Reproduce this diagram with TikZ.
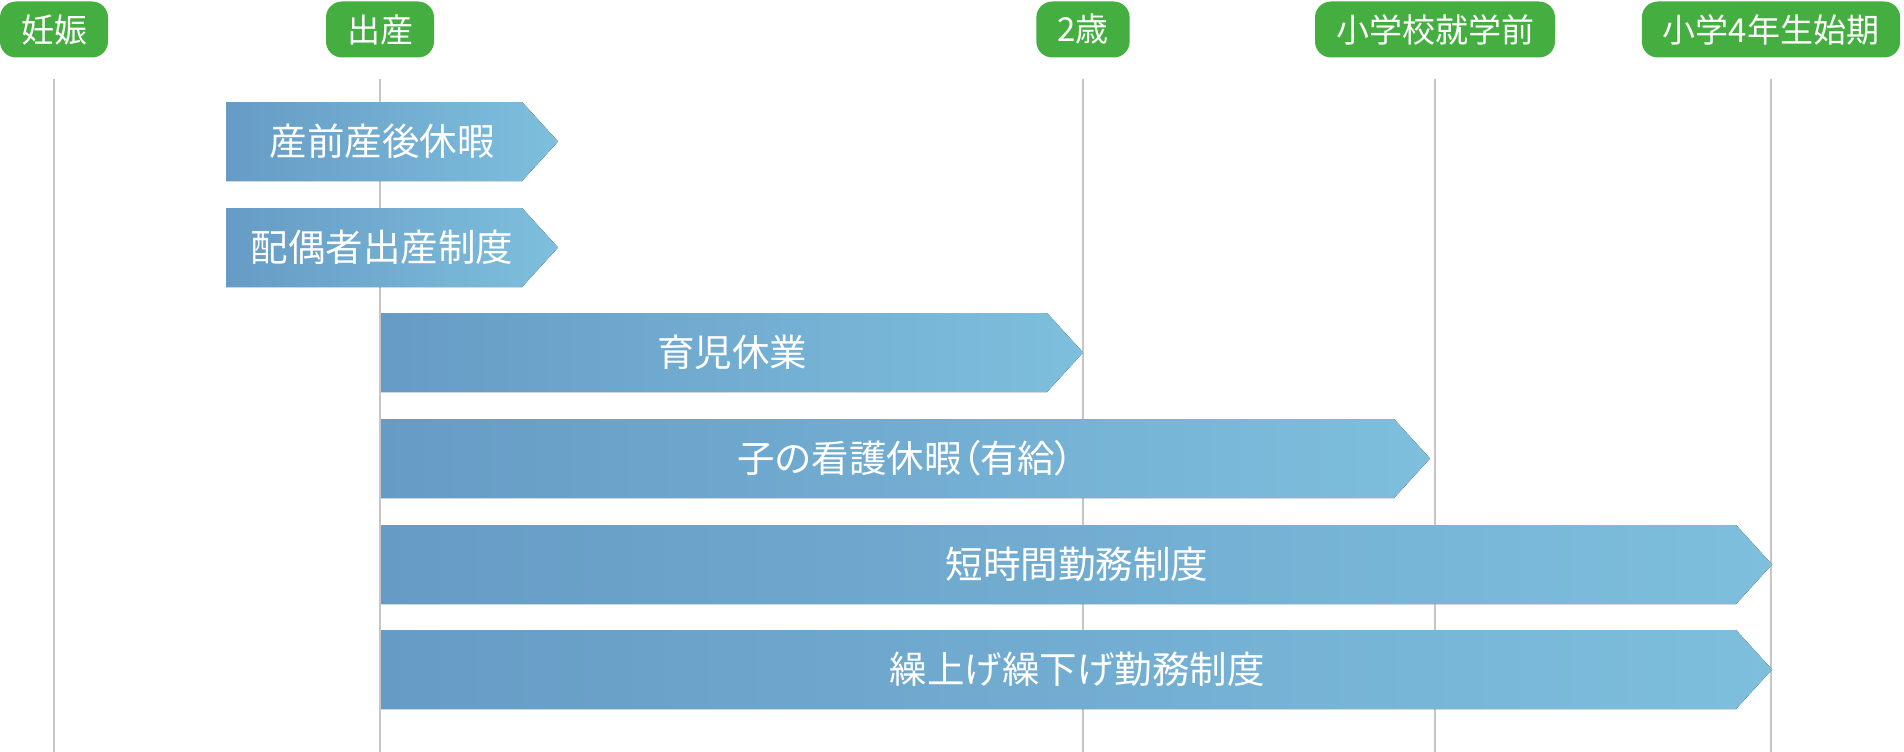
\documentclass[tikz,border=0pt]{standalone}
\usepackage{fontspec}
\newfontfamily\jpfont{Noto Sans CJK JP}
\newfontfamily\jpfontpalt[RawFeature=+palt]{Noto Sans CJK JP}
\definecolor{milegreen}{HTML}{44AF40}
\definecolor{barleft}{HTML}{669BC5}
\definecolor{barright}{HTML}{7EBFDD}
\definecolor{axisgray}{HTML}{C6C6C6}
\tikzset{
  milestone/.style={rounded corners=16pt, fill=milegreen, text=white,
    font=\jpfont\fontsize{33}{33}\selectfont, minimum height=56pt,
    inner xsep=21pt, inner ysep=0pt},
  period/.style={left color=barleft, right color=barright},
  periodlabel/.style={text=white, font=\jpfont\fontsize{37.5}{37.5}\selectfont},
  timeline/.style={draw=axisgray, line width=2.5pt}
}
\begin{document}
\begin{tikzpicture}[x=1pt,y=-1pt]
\useasboundingbox (0,0) rectangle (1904,752);
\coordinate (bottom) at (0,752);
\node[milestone] (ninshin) at (54,29.5) {妊娠};
\node[milestone] (shussan) at (380,29.5) {出産};
\node[milestone] (nisai) at (1083,29.5) {2歳};
\node[milestone] (shugakumae) at (1435,29.5) {小学校就学前};
\node[milestone] (yonensei) at (1771,29.5) {小学4年生始期};
\draw[timeline] ([yshift=-21pt]ninshin.south) -- (ninshin |- bottom);
\draw[timeline] ([yshift=-21pt]shussan.south) -- (shussan |- bottom);
\draw[timeline] ([yshift=-21pt]nisai.south) -- (nisai |- bottom);
\draw[timeline] ([yshift=-21pt]shugakumae.south) -- (shugakumae |- bottom);
\draw[timeline] ([yshift=-21pt]yonensei.south) -- (yonensei |- bottom);
% periods
\fill[period] (226,102) -- (522,102) -- (558,141.5) -- (522,181) -- (226,181) -- cycle;
\node[periodlabel] (sanzen) at (382,141.5) {産前産後休暇};
\fill[period] (226,208) -- (522,208) -- (558,247.5) -- (522,287) -- (226,287) -- cycle;
\node[periodlabel] (haiguusha) at (382,247.5) {配偶者出産制度};
\fill[period] (381,313) -- (1047,313) -- (1083,352.5) -- (1047,392) -- (381,392) -- cycle;
\node[periodlabel] (ikuji) at (732,352.5) {育児休業};
\fill[period] (381,419) -- (1394,419) -- (1430,458.5) -- (1394,498) -- (381,498) -- cycle;
\node[periodlabel, font=\jpfontpalt\fontsize{37.5}{37.5}\selectfont] (kango) at (906,458.5) {子の看護休暇（有給）};
\fill[period] (381,525) -- (1736,525) -- (1772,564.5) -- (1736,604) -- (381,604) -- cycle;
\node[periodlabel] (tanjikan) at (1077,564.5) {短時間勤務制度};
\fill[period] (381,630) -- (1736,630) -- (1772,669.5) -- (1736,709) -- (381,709) -- cycle;
\node[periodlabel] (kuriage) at (1077,669.5) {繰上げ繰下げ勤務制度};
\end{tikzpicture}
\end{document}
